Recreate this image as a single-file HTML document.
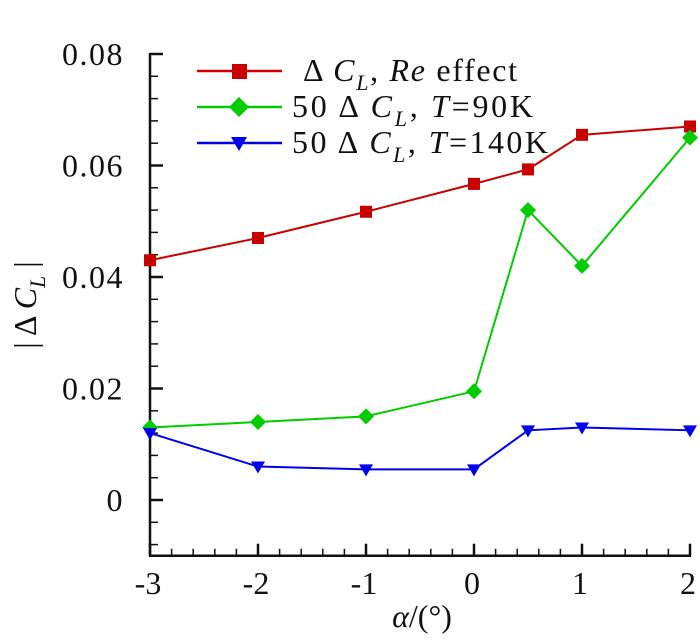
<!DOCTYPE html>
<html><head><meta charset="utf-8"><style>
body{margin:0;background:#fff}
svg text{font-family:"Liberation Serif",serif;fill:#111}
</style></head><body>
<svg width="700" height="637" viewBox="0 0 700 637">
<g id="axes"></g><g id="series"></g>
<g>
 <line x1="197" y1="71" x2="282" y2="71" stroke="#d00000" stroke-width="2.5"/><rect x="232" y="64" width="15" height="15" fill="#c80000"/>
 <text x="303" y="81" font-size="32" textLength="214" lengthAdjust="spacing">Δ <tspan font-style="italic">C</tspan><tspan font-size="22" dy="9" font-style="italic">L</tspan><tspan dy="-9">, </tspan><tspan font-style="italic">Re</tspan> effect</text>
 <line x1="197" y1="107" x2="282" y2="107" stroke="#00cc00" stroke-width="2.5"/><path d="M239 97 L249 107 L239 117 L229 107Z" fill="#00cc00"/>
 <text x="292" y="117" font-size="32" textLength="241" lengthAdjust="spacing">50 Δ <tspan font-style="italic">C</tspan><tspan font-size="22" dy="9" font-style="italic">L</tspan><tspan dy="-9">, </tspan><tspan font-style="italic">T</tspan>=90K</text>
 <line x1="197" y1="143" x2="282" y2="143" stroke="#0000ee" stroke-width="2.5"/><path d="M231 137 L247 137 L239 151Z" fill="#0000ee"/>
 <text x="292" y="153" font-size="32" textLength="256" lengthAdjust="spacing">50 Δ <tspan font-style="italic">C</tspan><tspan font-size="22" dy="9" font-style="italic">L</tspan><tspan dy="-9">, </tspan><tspan font-style="italic">T</tspan>=140K</text>
</g>
<text x="422" y="627" font-size="32" text-anchor="middle"><tspan font-style="italic">α</tspan>/(°)</text>
<text transform="translate(36,305) rotate(-90)" font-size="32" text-anchor="middle">| Δ <tspan font-style="italic">C</tspan><tspan font-size="22" dy="9" font-style="italic">L</tspan><tspan dy="-9"> |</tspan></text>
</svg>
<script>
const alphas=[-3,-2,-1,0,0.5,1,2];
const reEffect=[0.043,0.047,0.0517,0.0567,0.0593,0.0655,0.067];
const t90=[0.013,0.014,0.015,0.0195,0.052,0.042,0.065];
const t140=[0.012,0.006,0.0055,0.0055,0.0125,0.013,0.0125];
const xTicks=[-3,-2,-1,0,1,2];
const yTicks=[0,0.02,0.04,0.06,0.08];
const yTickLabels=["0","0.02","0.04","0.06","0.08"];
const NS="http://www.w3.org/2000/svg";
const X=v=>150+(v+3)*108, Y=v=>500-v*5575;
function mk(t,a,p){const e=document.createElementNS(NS,t);for(const k in a)e.setAttribute(k,a[k]);p.appendChild(e);return e;}
const ax=document.getElementById('axes');
let l=mk('line',{x1:150,y1:53,x2:150,y2:Y(-0.01),stroke:'#111','stroke-width':2.5},ax);


l=mk('line',{x1:149,y1:Y(-0.01),x2:691,y2:Y(-0.01),stroke:'#111','stroke-width':2.5},ax);


for(let v=-0.008;v<=0.0801;v+=0.004){const y=Y(v);mk('line',{x1:150,y1:y,x2:158,y2:y,stroke:'#111','stroke-width':1.5},ax);}
yTicks.forEach((v,i)=>{mk('line',{x1:150,y1:Y(v),x2:163,y2:Y(v),stroke:'#111','stroke-width':2.5},ax);
 const t=mk('text',{x:124,y:Y(v)+11,'font-size':32,'text-anchor':'end','letter-spacing':'1.5'},ax);t.textContent=yTickLabels[i];
 
 });
const yb=Y(-0.01);
for(let v=-3;v<=2.001;v+=0.2){mk('line',{x1:X(v),y1:yb,x2:X(v),y2:yb-7,stroke:'#111','stroke-width':1.5},ax);}
xTicks.forEach(v=>{mk('line',{x1:X(v),y1:yb,x2:X(v),y2:yb-12,stroke:'#111','stroke-width':2.5},ax);
 const t=mk('text',{x:X(v)-2,y:594,'font-size':32,'text-anchor':'middle'},ax);t.textContent=String(v);
 
 });
const sg=document.getElementById('series');
function series(vals,color,mark,name){
 const pl=mk('polyline',{points:alphas.map((a,i)=>X(a)+','+Y(vals[i])).join(' '),fill:'none',stroke:color,'stroke-width':2},sg);
 
 
 alphas.forEach((a,i)=>{const x=X(a),y=Y(vals[i]);let m;
  if(mark==='sq')m=mk('rect',{x:x-6,y:y-6,width:12,height:12,fill:color},sg);
  else if(mark==='di')m=mk('path',{d:`M${x} ${y-8}L${x+8} ${y}L${x} ${y+8}L${x-8} ${y}Z`,fill:color},sg);
  else m=mk('path',{d:`M${x-7} ${y-5}L${x+7} ${y-5}L${x} ${y+7}Z`,fill:color},sg);
  
  });
}
series(reEffect,'#c80000','sq','re-effect');
series(t90,'#00cc00','di','t90');
series(t140,'#0000ee','tri','t140');
</script>
</body></html>
